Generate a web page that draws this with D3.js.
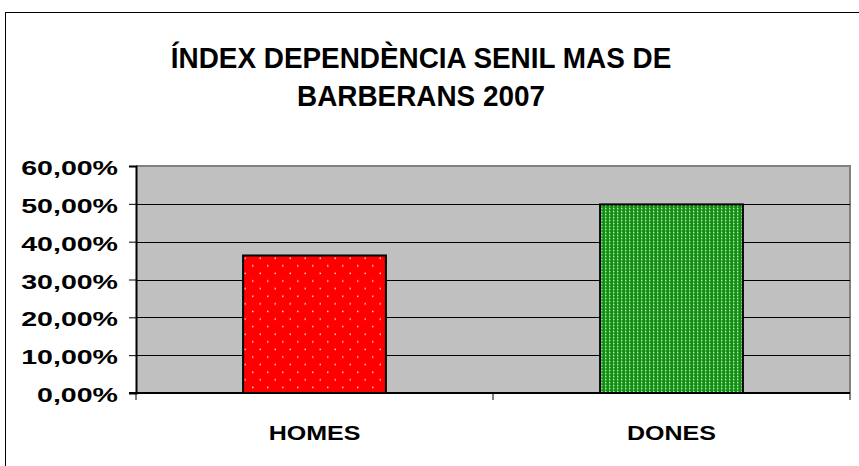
<!DOCTYPE html>
<html><head><meta charset="utf-8">
<script src="https://cdn.jsdelivr.net/npm/d3@7"></script>
<style>body{margin:0;background:#fff;}svg{display:block;font-family:"Liberation Sans",Arial,sans-serif;}</style>
</head><body>
<svg id="c" width="859" height="466"></svg>
<script>
const categories = ["HOMES", "DONES"];
const values = [0.3635, 0.4985];
const tickValues = [0, 0.1, 0.2, 0.3, 0.4, 0.5, 0.6];
const titleLines = ["ÍNDEX DEPENDÈNCIA SENIL MAS DE", "BARBERANS 2007"];

(function(){
const svg = d3.select("#c");
const defs = svg.append("defs");
const pr = defs.append("pattern").attr("id","pr").attr("patternUnits","userSpaceOnUse")
  .attr("width",15).attr("height",15.2).attr("x",242).attr("y",256);
pr.append("rect").attr("width",15).attr("height",15.2).attr("fill","#ff0000");
pr.append("rect").attr("x",2.5).attr("y",1.5).attr("width",1.5).attr("height",1.5).attr("fill","#ffd0d0");
pr.append("rect").attr("x",10).attr("y",9.1).attr("width",1.5).attr("height",1.5).attr("fill","#ffd0d0");
const pg = defs.append("pattern").attr("id","pg").attr("patternUnits","userSpaceOnUse")
  .attr("width",4).attr("height",3).attr("x",600).attr("y",205);
pg.append("rect").attr("width",4).attr("height",3).attr("fill","#109010");
pg.append("rect").attr("x",1).attr("y",0).attr("width",1.4).attr("height",1.4).attr("fill","#b8e8b8");
pg.append("rect").attr("x",1).attr("y",1.4).attr("width",1).attr("height",1.6).attr("fill","#50b050");

svg.append("rect").attr("x",5.5).attr("y",12.5).attr("width",900).attr("height",500)
  .attr("fill","#fff").attr("stroke","#000").attr("stroke-width",1);

const pl = 136, pr_ = 850, pt = 166, pb = 393;
const x = d3.scaleBand().domain(categories).range([pl,pr_]).paddingInner(0.6).paddingOuter(0.3);
const y = d3.scaleLinear().domain([0,0.6]).range([pb,pt]);

svg.append("rect").attr("x",pl).attr("y",pt).attr("width",pr_-pl).attr("height",pb-pt)
  .attr("fill","#c0c0c0");
svg.append("path").attr("d",`M${pl},${pt}H${pr_}V${pb}`).attr("fill","none")
  .attr("stroke","#808080").attr("stroke-width",2);

svg.append("g").selectAll("line").data(tickValues.filter(d=>d>0 && d<0.6)).join("line")
  .attr("x1",pl).attr("x2",pr_).attr("y1",d=>Math.round(y(d))+0.5).attr("y2",d=>Math.round(y(d))+0.5)
  .attr("stroke","#000").attr("stroke-width",1);

const fills = ["url(#pr)","url(#pg)"];
svg.append("g").selectAll("rect").data(categories).join("rect")
  .attr("x",d=>x(d)).attr("width",x.bandwidth())
  .attr("y",(d,i)=>y(values[i])).attr("height",(d,i)=>y(0)-y(values[i]))
  .attr("fill",(d,i)=>fills[i]).attr("stroke","#000").attr("stroke-width",2);

const fmt = d => d3.format(".2f")(d*100).replace(".",",") + "%";
const ya = svg.append("g").attr("transform",`translate(${pl},0)`)
  .call(d3.axisLeft(y).tickValues(tickValues).tickFormat(fmt).tickSize(7));
ya.select(".domain").attr("stroke","#000").attr("stroke-width",2);
ya.selectAll(".tick line").attr("stroke","#000");
ya.selectAll("text").attr("x",0).attr("dy",null).attr("dominant-baseline","central")
  .attr("transform",`translate(-18,1) scale(1.36,1)`)
  .attr("font-size",21).attr("font-weight","bold").attr("fill","#000")
  .attr("font-family","Liberation Sans, Arial, sans-serif");

const xa = svg.append("g").attr("transform",`translate(0,${pb})`)
  .call(d3.axisBottom(x).tickSize(0));
xa.select(".domain").remove();
xa.selectAll("text").attr("y",0).attr("dy",null)
  .attr("transform",`translate(0,47) scale(1.25,1)`)
  .attr("font-size",20).attr("font-weight","bold").attr("fill","#000")
  .attr("font-family","Liberation Sans, Arial, sans-serif");
svg.append("line").attr("x1",pl-7).attr("x2",pr_).attr("y1",pb).attr("y2",pb)
  .attr("stroke","#000").attr("stroke-width",2);
svg.append("g").selectAll("line").data([pl, (pl+pr_)/2, pr_]).join("line")
  .attr("x1",d=>d).attr("x2",d=>d).attr("y1",pb).attr("y2",pb+7).attr("stroke","#000");

svg.append("g").selectAll("text").data(titleLines).join("text")
  .attr("x",0).attr("y",0).attr("text-anchor","middle")
  .attr("transform",(d,i)=>`translate(421,${68+i*38}) scale(0.93,1)`)
  .attr("font-size",30).attr("font-weight","bold").attr("fill","#000").text(d=>d);
})();
</script>
</body></html>
